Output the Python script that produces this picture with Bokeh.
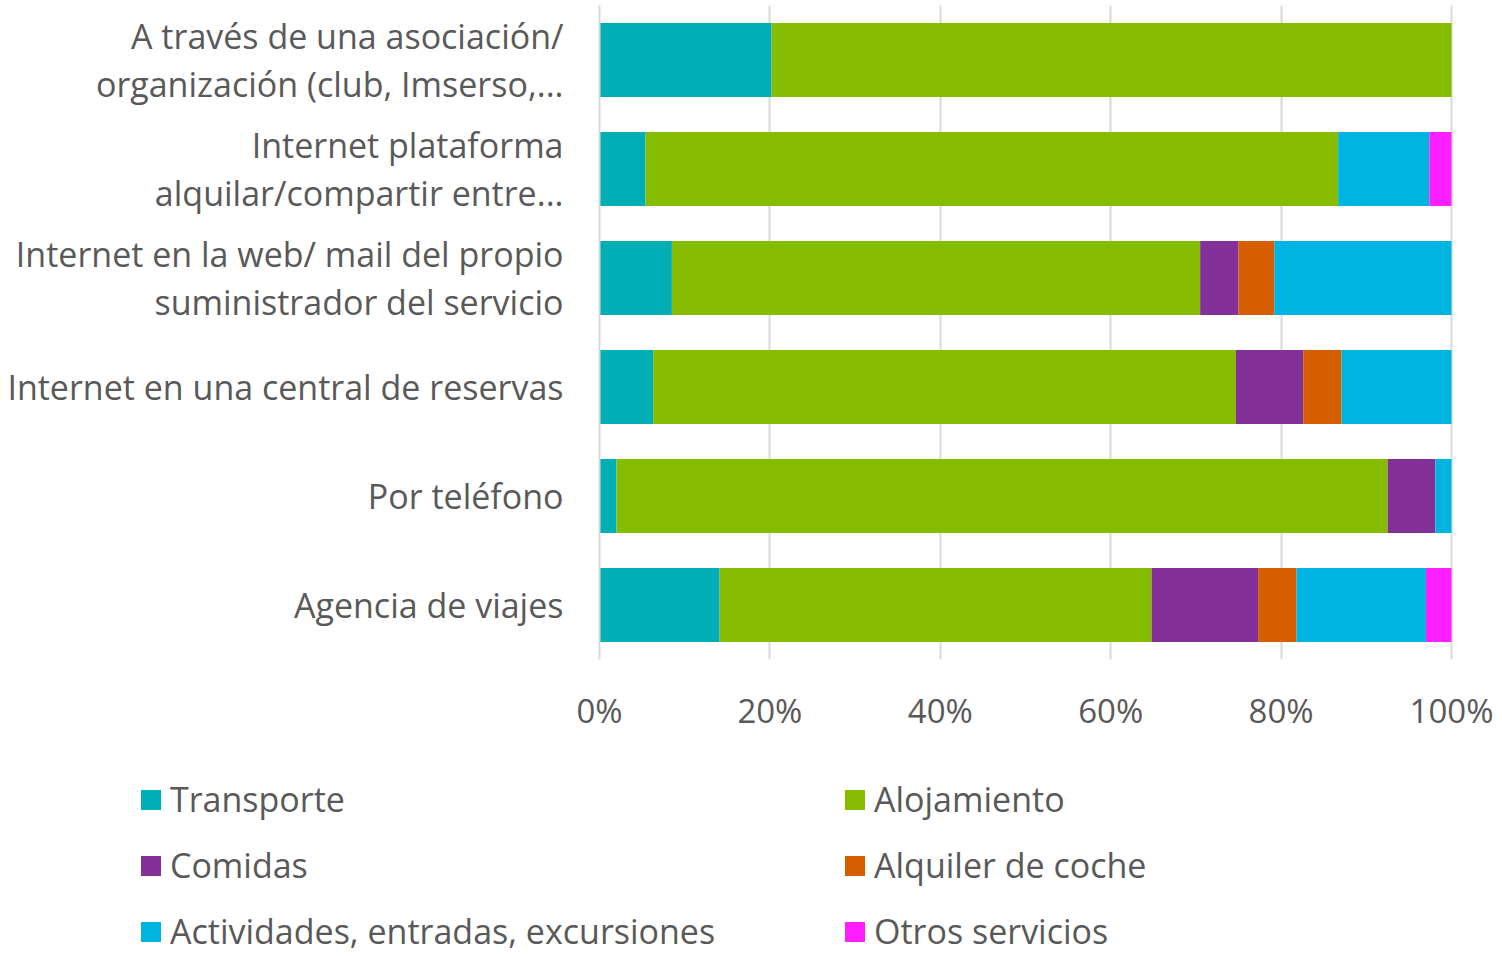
from bokeh.plotting import figure
from bokeh.layouts import column
from bokeh.models import (ColumnDataSource, FactorRange, Range1d, FixedTicker,
                          PrintfTickFormatter, Legend, LegendItem)
from bokeh.embed import file_html
from bokeh.resources import INLINE

categories = [
    "A través de una asociación/\norganización (club, Imserso,...",
    "Internet plataforma\nalquilar/compartir entre...",
    "Internet en la web/ mail del propio\nsuministrador del servicio",
    "Internet en una central de reservas",
    "Por teléfono",
    "Agencia de viajes",
]
transporte = [20.2, 5.4, 8.5, 6.3, 2.0, 14.1]
alojamiento = [79.8, 81.3, 62.0, 68.4, 90.5, 50.7]
comidas = [0, 0, 4.5, 7.9, 5.6, 12.5]
alquiler = [0, 0, 4.2, 4.5, 0, 4.5]
actividades = [0, 10.7, 20.8, 12.9, 1.9, 15.2]
otros = [0, 2.6, 0, 0, 0, 3.0]

series_keys = ["transporte", "alojamiento", "comidas", "alquiler", "actividades", "otros"]
series_names = ["Transporte", "Alojamiento", "Comidas", "Alquiler de coche",
                "Actividades, entradas, excursiones", "Otros servicios"]
colors = ["#00AEB5", "#86BC00", "#833199", "#D55E00", "#00B4E1", "#FF1EFF"]
x_ticks = [0, 20, 40, 60, 80, 100]

FONT = "Open Sans"
TXT = "#595959"
GRID = "#D9D9D9"
W = 1500

source = ColumnDataSource(dict(
    cat=categories, transporte=transporte, alojamiento=alojamiento,
    comidas=comidas, alquiler=alquiler, actividades=actividades, otros=otros))

p = figure(width=W, height=760, output_backend="svg", toolbar_location=None,
           y_range=FactorRange(*categories[::-1]), x_range=Range1d(0, 100.94),
           min_border_left=599, min_border_right=41, min_border_top=5,
           min_border_bottom=101, outline_line_color=None, frame_align=False)

p.hbar_stack(series_keys, y="cat", height=0.68, color=colors,
             line_color=None, source=source)

p.xaxis.ticker = FixedTicker(ticks=x_ticks)
p.xaxis.formatter = PrintfTickFormatter(format="%d%%")
p.xaxis.axis_line_color = None
p.xaxis.major_tick_line_color = None
p.xaxis.minor_tick_line_color = None
p.xaxis.major_label_text_font = FONT
p.xaxis.major_label_text_font_size = "33px"
p.xaxis.major_label_text_color = TXT
p.xaxis.major_label_standoff = 22

p.yaxis.axis_line_color = GRID
p.yaxis.axis_line_width = 2
p.yaxis.major_tick_line_color = None
p.yaxis.minor_tick_line_color = None
p.yaxis.major_label_text_font = FONT
p.yaxis.major_label_text_font_size = "34px"
p.yaxis.major_label_text_color = TXT
p.yaxis.major_label_text_line_height = 1.04
p.yaxis.major_label_standoff = 30

p.xgrid.grid_line_color = GRID
p.xgrid.grid_line_width = 2
p.ygrid.grid_line_color = None

# legend panel
H2 = 194
p2 = figure(width=W, height=H2, output_backend="svg", toolbar_location=None,
            x_range=Range1d(0, 1), y_range=Range1d(0, 1),
            min_border_left=0, min_border_right=0, min_border_top=0,
            min_border_bottom=0, outline_line_color=None, frame_align=False)
p2.axis.visible = False
p2.grid.visible = False
offscreen = ColumnDataSource(dict(y=[-10], left=[0], right=[1]))
swatches = [p2.hbar(y="y", left="left", right="right", height=1, source=offscreen,
                    fill_color=c, line_color=None) for c in colors]

order = [0, 2, 4, 1, 3, 5]
items = [LegendItem(label=series_names[i], renderers=[swatches[i]]) for i in order]
legend = Legend(items=items, location=(138, 0), orientation="vertical", nrows=3,
                glyph_width=25, glyph_height=25, label_standoff=7,
                label_width=652, label_height=44, spacing=20, padding=0, margin=0,
                border_line_color=None, background_fill_alpha=0,
                label_text_font=FONT, label_text_font_size="34px",
                label_text_color=TXT)
p2.add_layout(legend, "center")

layout = column(p, p2, spacing=0)
open("out.html", "w").write(file_html(layout, INLINE))
